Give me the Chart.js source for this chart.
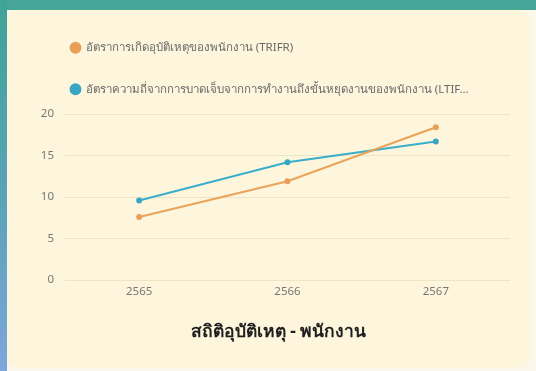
<!DOCTYPE html>
<html lang="th">
<head>
<meta charset="utf-8">
<title>สถิติอุบัติเหตุ - พนักงาน</title>
<script src="https://cdn.jsdelivr.net/npm/chart.js@4/dist/chart.umd.min.js"></script>
<style>
    html, body {
        margin: 0;
        padding: 0;
    }
    .frame {
        position: relative;
        width: 536px;
        height: 371px;
        overflow: hidden;
        background: #fbf7ea;
    }
    .frame-top {
        position: absolute;
        left: 0;
        top: 0;
        width: 536px;
        height: 10px;
        background: #45a596;
    }
    .frame-left {
        position: absolute;
        left: 0;
        top: 0;
        width: 7px;
        height: 371px;
        background: linear-gradient(180deg, #3fa396 0%, #5fa3bd 60%, #7ea6dc 100%);
    }
    .card {
        position: absolute;
        left: 7px;
        top: 10px;
        width: 523px;
        height: 358px;
        border-radius: 12px;
        background: #fdf6dc;
    }
    .chart-box {
        position: absolute;
        left: 41px;
        top: 12px;
        width: 475px;
        height: 341px;
    }
</style>
</head>
<body>
<div class="frame">
    <div class="frame-top"></div>
    <div class="frame-left"></div>
    <div class="card"></div>
    <div class="chart-box">
        <canvas id="accidentChart"></canvas>
    </div>
</div>
<script>
const years = ["2565", "2566", "2567"];
const trifrValues = [7.6, 11.9, 18.4];
const ltifrValues = [9.6, 14.2, 16.7];
const seriesLabels = [
    "อัตราการเกิดอุบัติเหตุของพนักงาน (TRIFR)",
    "อัตราความถี่จากการบาดเจ็บจากการทำงานถึงขั้นหยุดงานของพนักงาน (LTIF…"
];
const yTicks = [0, 5, 10, 15, 20];

const fontFamily = "'Noto Sans', 'Open Sans', sans-serif";

// push the plot down a little below the legend rows
const legendGap = {
    id: "legendGap",
    beforeInit(chart) {
        const originalFit = chart.legend.fit;
        chart.legend.fit = function fit() {
            originalFit.bind(chart.legend)();
            this.height += 9;
        };
    }
};

new Chart(document.getElementById("accidentChart"), {
    type: "line",
    data: {
        labels: years,
        datasets: [{
            label: seriesLabels[0],
            data: trifrValues,
            borderColor: "#eba35a",
            backgroundColor: "#f2a447",
            pointBackgroundColor: "#e89f58",
            pointBorderColor: "#e89f58",
            borderWidth: 2,
            pointRadius: 2,
            tension: 0
        }, {
            label: seriesLabels[1],
            data: ltifrValues,
            borderColor: "#3aaecb",
            backgroundColor: "#3fb3e0",
            pointBackgroundColor: "#3aa6c4",
            pointBorderColor: "#3aa6c4",
            borderWidth: 2,
            pointRadius: 2,
            tension: 0
        }]
    },
    options: {
        responsive: true,
        maintainAspectRatio: false,
        animation: false,
        plugins: {
            legend: {
                position: "top",
                align: "start",
                labels: {
                    usePointStyle: true,
                    pointStyle: "circle",
                    boxWidth: 9,
                    boxHeight: 7,
                    padding: 30,
                    color: "#6a6a6a",
                    font: { family: fontFamily, size: 11.5 }
                }
            },
            title: {
                display: true,
                position: "bottom",
                text: "สถิติอุบัติเหตุ - พนักงาน",
                color: "#1e1e1e",
                font: { family: fontFamily, size: 17.5, weight: "bold" },
                padding: { top: 18, bottom: 10 }
            },
            tooltip: { enabled: false }
        },
        scales: {
            x: {
                offset: true,
                grid: { display: false, drawTicks: false },
                border: { display: false },
                ticks: {
                    color: "#777",
                    padding: 5,
                    font: { family: fontFamily, size: 11.5 }
                }
            },
            y: {
                min: 0,
                max: 20,
                afterBuildTicks(scale) {
                    scale.ticks = yTicks.map((value) => ({ value }));
                },
                afterFit(scale) {
                    scale.width = 24;
                },
                grid: {
                    color: "rgba(150, 130, 70, 0.14)",
                    drawTicks: false
                },
                border: { display: false },
                ticks: {
                    color: "#777",
                    padding: 11,
                    font: { family: fontFamily, size: 11.5 }
                }
            }
        }
    },
    plugins: [legendGap]
});
</script>
</body>
</html>
